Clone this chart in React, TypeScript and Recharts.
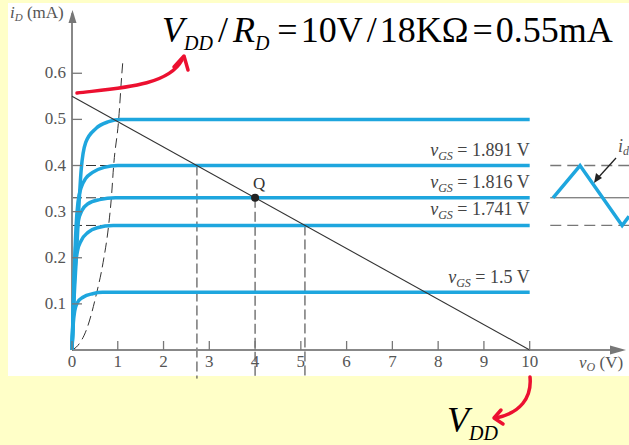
import React from "react";
import {
  ComposedChart,
  Line,
  XAxis,
  YAxis,
  ReferenceLine,
  ReferenceDot,
} from "recharts";

// axis ticks
const xTicks = [0, 1, 2, 3, 4, 5, 6, 7, 8, 9, 10];
const yTicks = [0.1, 0.2, 0.3, 0.4, 0.5, 0.6];

// output characteristics, one per vGS (v in V, i in mA)
const curve050 = [
  { v: 0, i: 0 }, { v: 0.04, i: 0.1 }, { v: 0.1, i: 0.21 }, { v: 0.15, i: 0.31 },
  { v: 0.2, i: 0.39 }, { v: 0.3, i: 0.45 }, { v: 0.52, i: 0.48 }, { v: 0.8, i: 0.495 },
  { v: 1.05, i: 0.5 }, { v: 10, i: 0.5 },
];
const curve040 = [
  { v: 0, i: 0 }, { v: 0.05, i: 0.17 }, { v: 0.09, i: 0.27 }, { v: 0.13, i: 0.32 },
  { v: 0.2, i: 0.352 }, { v: 0.3, i: 0.372 }, { v: 0.45, i: 0.385 }, { v: 0.7, i: 0.396 },
  { v: 1.0, i: 0.4 }, { v: 10, i: 0.4 },
];
const curve033 = [
  { v: 0, i: 0 }, { v: 0.05, i: 0.16 }, { v: 0.09, i: 0.24 }, { v: 0.14, i: 0.28 },
  { v: 0.22, i: 0.303 }, { v: 0.35, i: 0.317 }, { v: 0.6, i: 0.326 }, { v: 0.95, i: 0.33 },
  { v: 10, i: 0.33 },
];
const curve027 = [
  { v: 0, i: 0 }, { v: 0.04, i: 0.12 }, { v: 0.07, i: 0.18 }, { v: 0.12, i: 0.215 },
  { v: 0.2, i: 0.237 }, { v: 0.35, i: 0.255 }, { v: 0.55, i: 0.265 }, { v: 0.9, i: 0.27 },
  { v: 10, i: 0.27 },
];
const curve0125 = [
  { v: 0, i: 0 }, { v: 0.03, i: 0.06 }, { v: 0.06, i: 0.085 }, { v: 0.12, i: 0.103 },
  { v: 0.25, i: 0.115 }, { v: 0.45, i: 0.122 }, { v: 0.67, i: 0.125 }, { v: 10, i: 0.125 },
];
const curves = [curve050, curve040, curve033, curve027, curve0125];

// triode / saturation boundary
const boundary = [
  { v: 0, i: 0 }, { v: 0.13, i: 0.01 }, { v: 0.32, i: 0.045 }, { v: 0.53, i: 0.12 },
  { v: 0.68, i: 0.19 }, { v: 0.8, i: 0.27 }, { v: 0.86, i: 0.33 }, { v: 0.91, i: 0.4 },
  { v: 1.02, i: 0.5 }, { v: 1.09, i: 0.6 }, { v: 1.11, i: 0.625 },
];

// load line VDD/RD
const loadLine = [{ v: 0, i: 0.55 }, { v: 10, i: 0 }];

// Q point and swing
const qPoint = { v: 4.0, i: 0.33 };
const swingV = [2.73, 4.0, 5.09];
const swingI = [0.4, 0.33, 0.27];
const swingKnee = [1.0, 0.95, 0.9];

// vGS labels
const vgsText = ["1.891", "1.816", "1.741", "1.5"];
const vgsLevel = [0.4, 0.33, 0.27, 0.125];

// drain current wave on the right
const wave = [
  { v: 10.51, i: 0.33 }, { v: 11.1, i: 0.4 }, { v: 12.02, i: 0.27 }, { v: 12.17, i: 0.29 },
];

const BLUE = "#1ea6de";
const RED = "#ec1030";
const SERIF = '"Liberation Serif", "Times New Roman", serif';

const XTick = (props: any) => {
  const { x, y, payload } = props;
  return (
    <g>
      <line x1={x} y1={y} x2={x} y2={y - 9} stroke="#777" strokeWidth={1.3} />
      <text x={x} y={y + 17} textAnchor="middle" fontFamily={SERIF} fontSize={17} fill="#555">
        {payload.value}
      </text>
    </g>
  );
};

const YTick = (props: any) => {
  const { x, y, payload } = props;
  return (
    <g>
      <line x1={x} y1={y} x2={x + 10} y2={y} stroke="#777" strokeWidth={1.3} />
      <text x={x - 6} y={y + 5} textAnchor="end" fontFamily={SERIF} fontSize={17} fill="#555">
        {payload.value}
      </text>
    </g>
  );
};

const vgsLabel = (value: string, lift: number) => (props: any) => {
  const { viewBox } = props;
  return (
    <text x={viewBox.x + 1} y={viewBox.y + 1 - lift} textAnchor="end" fontFamily={SERIF} fontSize={18} fill="#444">
      <tspan fontStyle="italic">v</tspan>
      <tspan fontStyle="italic" fontSize={12} dy={4}>GS</tspan>
      <tspan dy={-4}> = {value} V</tspan>
    </text>
  );
};

const qLabel = (props: any) => {
  const { viewBox } = props;
  return (
    <text x={viewBox.x + 8} y={viewBox.y - 5} textAnchor="middle" fontFamily={SERIF} fontSize={17} fill="#333">
      Q
    </text>
  );
};

export default function App() {
  return (
    <div style={{ position: "absolute", left: 0, top: 0, width: 629, height: 445, background: "#ffffc8", overflow: "hidden" }}>
      <div style={{ position: "absolute", left: 8, top: 3, width: 621, height: 373, background: "#ffffff" }} />
      <div style={{ position: "absolute", left: 0, top: 0 }}>
        <ComposedChart width={629} height={445} margin={{ top: 5, right: 0, left: 12, bottom: 65 }}>
          <XAxis
            dataKey="v"
            type="number"
            domain={[0, 12.17]}
            ticks={xTicks}
            interval={0}
            axisLine={false}
            tickLine={false}
            tickSize={0}
            tickMargin={0}
            height={30}
            tick={<XTick />}
          />
          <YAxis
            type="number"
            domain={[0, 0.748]}
            ticks={yTicks}
            interval={0}
            axisLine={false}
            tickLine={false}
            tickSize={0}
            tickMargin={0}
            width={60}
            tick={<YTick />}
          />
          {swingV.map((v, k) => (
            <ReferenceLine
              key={"h" + k}
              segment={[{ x: 0, y: swingI[k] }, { x: swingKnee[k], y: swingI[k] }]}
              stroke="#333"
              strokeWidth={1}
              strokeDasharray="10 4"
              ifOverflow="visible"
            />
          ))}
          {swingV.map((v, k) => (
            <ReferenceLine
              key={"v" + k}
              segment={[{ x: v, y: swingI[k] }, { x: v, y: -0.062 }]}
              stroke="#333"
              strokeWidth={1}
              strokeDasharray="10 4"
              ifOverflow="visible"
            />
          ))}
          <ReferenceLine segment={[{ x: 10.45, y: 0.4 }, { x: 12.17, y: 0.4 }]} stroke="#777" strokeWidth={1.3} strokeDasharray="11 6" ifOverflow="visible" />
          <ReferenceLine segment={[{ x: 10.45, y: 0.27 }, { x: 12.17, y: 0.27 }]} stroke="#777" strokeWidth={1.3} strokeDasharray="11 6" ifOverflow="visible" />
          <ReferenceLine segment={[{ x: 10.45, y: 0.33 }, { x: 12.17, y: 0.33 }]} stroke="#555" strokeWidth={1} ifOverflow="visible" />
          <ReferenceLine segment={[{ x: 0, y: 0 }, { x: 11.9, y: 0 }]} stroke="#888" strokeWidth={2} ifOverflow="visible" />
          <ReferenceLine segment={[{ x: 0, y: 0 }, { x: 0, y: 0.73 }]} stroke="#888" strokeWidth={2} ifOverflow="visible" />
          <Line data={boundary} dataKey="i" type="monotone" stroke="#333" strokeWidth={1} strokeDasharray="10 5" dot={false} isAnimationActive={false} />
          {curves.map((c, k) => (
            <Line key={"c" + k} data={c} dataKey="i" type="monotone" stroke={BLUE} strokeWidth={3.5} dot={false} isAnimationActive={false} />
          ))}
          <Line data={wave} dataKey="i" type="linear" stroke={BLUE} strokeWidth={3.5} dot={false} isAnimationActive={false} />
          <Line data={loadLine} dataKey="i" type="linear" stroke="#333" strokeWidth={1.1} dot={false} isAnimationActive={false} />
          {vgsText.map((t, k) => (
            <ReferenceDot
              key={"l" + k}
              x={10}
              y={vgsLevel[k]}
              r={1}
              fill="none"
              stroke="none"
              label={vgsLabel(t, k === 3 ? 9 : 10)}
            />
          ))}
          <ReferenceDot x={qPoint.v} y={qPoint.i} r={4} fill="#222" stroke="none" label={qLabel} />
        </ComposedChart>
      </div>
      <svg width={629} height={445} style={{ position: "absolute", left: 0, top: 0, pointerEvents: "none" }}>
        {/* axis arrows */}
        <polygon points="72.5,10 68.5,23 76.5,23" fill="#777" />
        <polygon points="626,350 610,345.5 610,354.5" fill="#777" />
        {/* axis names */}
        <text x={10} y={18} fontFamily={SERIF} fontSize={17} fill="#555">
          <tspan fontStyle="italic">i</tspan>
          <tspan fontStyle="italic" fontSize={11} dy={3}>D</tspan>
          <tspan dy={-3}> (mA)</tspan>
        </text>
        <text x={579} y={368} fontFamily={SERIF} fontSize={17} fill="#555">
          <tspan fontStyle="italic">v</tspan>
          <tspan fontStyle="italic" fontSize={12} dy={3}>O</tspan>
          <tspan dy={-3}> (V)</tspan>
        </text>
        {/* i_d marker */}
        <text x={618} y={152} fontFamily={SERIF} fontSize={18} fill="#555">
          <tspan fontStyle="italic">i</tspan>
          <tspan fontStyle="italic" fontSize={12} dy={3}>d</tspan>
        </text>
        <line x1={616} y1={158} x2={597} y2={179} stroke="#222" strokeWidth={1.3} />
        <polygon points="594,183 596,173 602,178" fill="#222" />
        {/* title */}
        <text x={162} y={42} fontFamily={SERIF} fontSize={36} fill="#000">
          <tspan fontStyle="italic">V</tspan>
          <tspan fontStyle="italic" fontSize={20} dy={8}>DD</tspan>
          <tspan dy={-8} dx={5}>/</tspan>
          <tspan fontStyle="italic" dx={5}>R</tspan>
          <tspan fontStyle="italic" fontSize={20} dy={8}>D</tspan>
          <tspan dy={-8} dx={8}>=</tspan>
          <tspan dx={3}>10V</tspan>
          <tspan dx={4}>/</tspan>
          <tspan dx={3}>18KΩ</tspan>
          <tspan dx={4}>=</tspan>
          <tspan dx={3}>0.55mA</tspan>
        </text>
        {/* red arrows */}
        <path d="M77,93 C120,88 168,86 182,60" fill="none" stroke={RED} strokeWidth={3.5} strokeLinecap="round" />
        <polyline points="174,67 184,56 188,70" fill="none" stroke={RED} strokeWidth={3.5} strokeLinecap="round" strokeLinejoin="round" />
        <path d="M530,377 C532,398 520,413 496,418" fill="none" stroke={RED} strokeWidth={3.5} strokeLinecap="round" />
        <polyline points="501,410 494,418 503,424" fill="none" stroke={RED} strokeWidth={3.5} strokeLinecap="round" strokeLinejoin="round" />
        {/* VDD */}
        <text x={447} y={432} fontFamily={SERIF} fontSize={36} fill="#000">
          <tspan fontStyle="italic">V</tspan>
          <tspan fontStyle="italic" fontSize={20} dy={8}>DD</tspan>
        </text>
      </svg>
    </div>
  );
}
